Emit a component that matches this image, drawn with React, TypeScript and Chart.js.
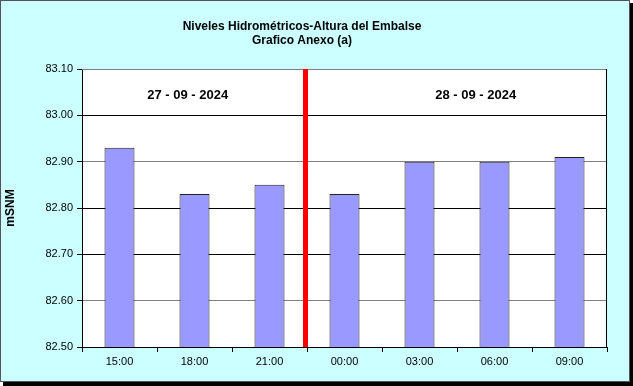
import React, { useEffect, useRef } from 'react';
import { Chart, registerables } from 'chart.js';

Chart.register(...registerables);

const categories = ['15:00', '18:00', '21:00', '00:00', '03:00', '06:00', '09:00'];
const levels = [82.93, 82.83, 82.85, 82.83, 82.9, 82.9, 82.91];
const yTicks = [82.5, 82.6, 82.7, 82.8, 82.9, 83.0, 83.1];
const titleLines = ['Niveles Hidrométricos-Altura del Embalse', 'Grafico Anexo (a)'];
const dateLabels = ['27 - 09 - 2024', '28 - 09 - 2024'];
const dateLabelIndex = [0.91, 4.75];
const dateLabelValue = 83.044;
const dayBreakIndex = 2.5;
const yAxisTitle = 'mSNM';

const FONT = '"Liberation Sans", Arial, sans-serif';

const framePlugin = {
  id: 'frame',
  beforeDraw(chart: any) {
    const ctx = chart.ctx;
    ctx.save();
    ctx.fillStyle = '#000000';
    ctx.fillRect(3, 3, 630, 383);
    ctx.fillStyle = '#CCFFFF';
    ctx.fillRect(0, 0, 630, 382);
    ctx.strokeStyle = '#555555';
    ctx.lineWidth = 1;
    ctx.strokeRect(0.5, 0.5, 629, 381);
    const a = chart.chartArea;
    ctx.fillStyle = '#FFFFFF';
    ctx.fillRect(a.left, a.top, a.right - a.left, a.bottom - a.top);
    ctx.fillStyle = '#000000';
    ctx.font = `bold 12px ${FONT}`;
    ctx.textAlign = 'center';
    ctx.textBaseline = 'alphabetic';
    ctx.fillText(titleLines[0], 302, 30);
    ctx.fillText(titleLines[1], 302, 44);
    ctx.restore();
  },
  afterDatasetsDraw(chart: any) {
    const ctx = chart.ctx;
    const a = chart.chartArea;
    const xs = chart.scales.x;
    const ys = chart.scales.y;
    ctx.save();
    ctx.strokeStyle = '#808080';
    ctx.lineWidth = 1;
    ctx.beginPath();
    ctx.moveTo(a.left, a.top + 0.5);
    ctx.lineTo(a.right, a.top + 0.5);
    ctx.stroke();
    ctx.strokeStyle = '#000000';
    ctx.beginPath();
    ctx.moveTo(a.right - 0.5, a.top);
    ctx.lineTo(a.right - 0.5, a.bottom);
    ctx.stroke();
    const bx = xs.getPixelForValue(dayBreakIndex) - 1.5;
    ctx.strokeStyle = '#FF0000';
    ctx.lineWidth = 5;
    ctx.beginPath();
    ctx.moveTo(bx, a.top);
    ctx.lineTo(bx, a.bottom);
    ctx.stroke();
    ctx.fillStyle = '#000000';
    ctx.font = `bold 13px ${FONT}`;
    ctx.textAlign = 'center';
    ctx.textBaseline = 'middle';
    dateLabels.forEach((t, i) => {
      ctx.fillText(t, xs.getPixelForValue(dateLabelIndex[i]), ys.getPixelForValue(dateLabelValue));
    });
    ctx.restore();
  },
};

export default function App() {
  const ref = useRef<HTMLCanvasElement>(null);
  useEffect(() => {
    document.body.style.margin = '0';
    const chart = new Chart(ref.current as HTMLCanvasElement, {
      type: 'bar',
      data: {
        labels: categories,
        datasets: [
          {
            data: levels,
            backgroundColor: '#9999FF',
            borderColor: '#222222',
            borderWidth: 1,
            borderSkipped: false,
            barPercentage: 0.4,
            categoryPercentage: 1,
          },
        ],
      },
      options: {
        responsive: false,
        animation: false,
        layout: { padding: { top: 69, right: 26, bottom: 0, left: 0 } },
        plugins: { legend: { display: false }, title: { display: false }, tooltip: { enabled: false } },
        scales: {
          x: {
            offset: true,
            grid: { offset: true, drawOnChartArea: false, tickLength: 5, color: '#000000' },
            border: { display: true, color: '#000000', width: 1 },
            ticks: { font: { family: FONT, size: 11 }, color: '#000000', padding: 3, maxRotation: 0 },
            afterFit: (s: any) => { s.height = 39; },
          },
          y: {
            min: 82.5,
            max: 83.1,
            afterBuildTicks: (s: any) => { s.ticks = yTicks.map((v) => ({ value: v })); },
            afterFit: (s: any) => { s.width = 82; },
            grid: {
              tickLength: 5,
              color: (c: any) => {
                const v = c.tick ? Math.round(c.tick.value * 100) : 0;
                return v === 8260 || v === 8290 || v === 8310 ? '#808080' : '#000000';
              },
              tickColor: '#000000',
            },
            border: { display: true, color: '#000000', width: 1 },
            ticks: {
              font: { family: FONT, size: 11 },
              color: '#000000',
              padding: 4,
              callback: (v: any) => Number(v).toFixed(2),
            },
            title: {
              display: true,
              text: yAxisTitle,
              font: { family: FONT, size: 12, weight: 'bold' },
              color: '#000000',
              padding: { top: 3, bottom: 0 },
            },
          },
        },
      },
      plugins: [framePlugin],
    } as any);
    return () => chart.destroy();
  }, []);
  return (
    <div style={{ width: 633, height: 386 }}>
      <canvas ref={ref} width={633} height={386} />
    </div>
  );
}
